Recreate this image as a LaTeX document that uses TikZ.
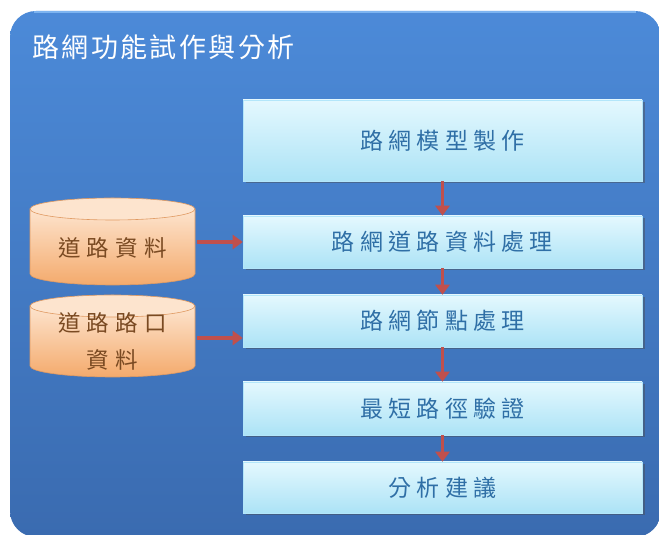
\documentclass[tikz,border=0pt]{standalone}
\usepackage{fontspec}
\newfontfamily\cjktitle[LetterSpace=9]{Noto Sans CJK TC}
\newfontfamily\cjkbox[LetterSpace=23]{Noto Sans CJK TC}
\newfontfamily\cjkcyl[LetterSpace=27]{Noto Sans CJK TC}
\usetikzlibrary{shadows,arrows.meta,calc}
\definecolor{bgtop}{HTML}{4C8AD8}
\definecolor{bgbot}{HTML}{3A6BB0}
\definecolor{boxtop}{HTML}{E4F8FE}
\definecolor{boxbot}{HTML}{ACE3F6}
\definecolor{boxtxt}{HTML}{2F6FA6}
\definecolor{cyltop}{HTML}{FDE4CE}
\definecolor{cylbot}{HTML}{F4AA6C}
\definecolor{cylline}{HTML}{E09A62}
\definecolor{cyltxt}{HTML}{7A4A22}
\definecolor{arr}{HTML}{C0504D}
\definecolor{hilite}{HTML}{7DB4F0}
\tikzset{
  stepbox/.style={rectangle, minimum width=399pt, draw=white!70!cyan, line width=0.6pt,
    top color=boxtop, bottom color=boxbot, text=boxtxt,
    font=\cjkbox\fontsize{23}{27}\selectfont,
    drop shadow={shadow xshift=2.5pt, shadow yshift=-2.5pt, opacity=0.45, fill=black!70}},
  cyltext/.style={rectangle, minimum width=165pt, text=cyltxt, align=center,
    font=\cjkcyl\fontsize{22.5}{37}\selectfont},
  flow/.style={draw=arr, line width=3.2pt, -{Triangle[length=10pt,width=14pt]}},
}
\begin{document}
\begin{tikzpicture}[x=1pt,y=1pt]
\useasboundingbox (0,0) rectangle (659,535);
% background panel
\fill[white] (0,0) rectangle (659,535);
\shade[top color=bgtop, bottom color=bgbot, rounded corners=26pt] (10,-2) rectangle (661,524);
\draw[hilite, line width=2pt] (34,522.5) -- (636,522.5);
\node[anchor=west, text=white, font=\cjktitle\fontsize{27}{31}\selectfont, inner sep=0] (title) at (32,488) {路網功能試作與分析};

% step boxes
\node[stepbox, minimum height=81pt] (b1) at (442.5,394.5) {路網模型製作};
\node[stepbox, minimum height=52pt] (b2) at (442.5,293) {路網道路資料處理};
\node[stepbox, minimum height=52pt] (b3) at (442.5,214) {路網節點處理};
\node[stepbox, minimum height=53pt] (b4) at (442.5,126.5) {最短路徑驗證};
\node[stepbox, minimum height=51pt] (b5) at (442.5,47.5) {分析建議};

% cylinders
\foreach \cx/\ty/\by in {112.5/337/250, 112.5/240/158}{
  \shade[top color=cyltop, bottom color=cylbot, draw=cylline, line width=0.6pt] (\cx+82.5,\ty-11) -- (\cx+82.5,\by+11) arc[start angle=0,end angle=-180,x radius=82.5,y radius=11] -- (\cx-82.5,\ty-11) -- cycle;
  \fill[cyltop, draw=cylline, line width=0.6pt] (\cx,\ty-11) ellipse[x radius=82.5, y radius=11];
}
\node[cyltext, minimum height=87pt] (c1) at (112.5,287) {道路資料};
\node[cyltext, minimum height=82pt] (c2) at (112.5,193.5) {道路路口\\資料};

% connectors
\coordinate (a1) at (197,293);
\coordinate (a2) at (197,197);
\draw[flow] (b1.south) -- (b2.north);
\draw[flow] (b2.south) -- (b3.north);
\draw[flow] (b3.south) -- (b4.north);
\draw[flow] (b4.south) -- (b5.north);
\draw[flow] (a1) -- (a1 -| b2.west);
\draw[flow] (a2) -- (a2 -| b3.west);
\end{tikzpicture}
\end{document}
